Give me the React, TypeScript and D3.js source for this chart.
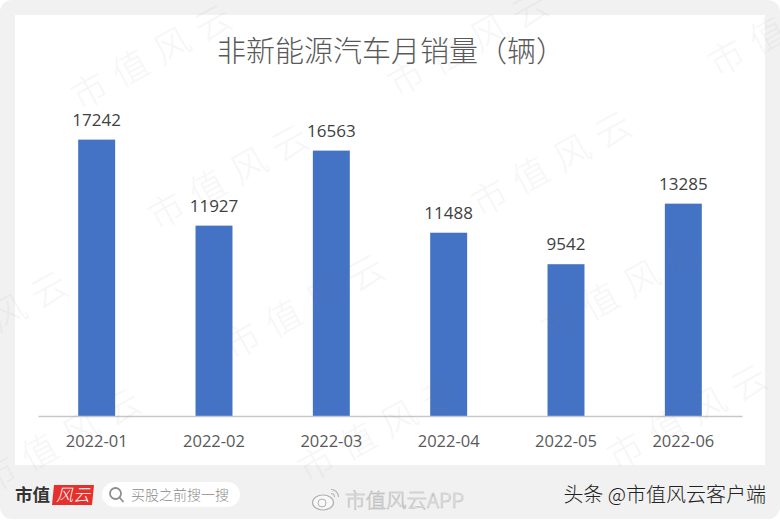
import { useEffect, useRef } from 'react';
import * as d3 from 'd3';

const months = ['2022-01', '2022-02', '2022-03', '2022-04', '2022-05', '2022-06'];
const sales = [17242, 11927, 16563, 11488, 9542, 13285];
const chartTitle = '非新能源汽车月销量（辆）';
const watermarkText = '市值风云';
// where each watermark stamp starts
const watermarkX = [80, 157, 233, 307, 397, 480, 550, 616, 717, -84, -11];
const watermarkY = [111, 231, 361, 484, 98, 218, 344, 471, 78, 378, 495];

const CJK = '"Noto Sans CJK SC", "Noto Sans", sans-serif';
const LATIN = '"Open Sans", "Noto Sans CJK SC", sans-serif';
const AXIS_Y = 416;

export default function App() {
  const svgRef = useRef<SVGSVGElement>(null);

  useEffect(() => {
    if (!svgRef.current) return;
    const svg = d3.select(svgRef.current);
    svg.selectAll('*').remove();

    const x = d3.scaleBand<string>().domain(months).range([38, 742]).paddingInner(0.685).paddingOuter(0.3425);
    const y = d3.scaleLinear().domain([0, 20000]).range([418.6, 95]);

    // background + card
    svg.append('rect').attr('width', 780).attr('height', 520).attr('fill', '#ffffff');
    svg.append('rect').attr('x', 0).attr('y', 0).attr('width', 780).attr('height', 519).attr('rx', 12).attr('fill', '#f1f1f1');
    svg.append('rect').attr('x', 15).attr('y', 15).attr('width', 750).attr('height', 450).attr('fill', '#ffffff');

    svg.append('text')
      .attr('x', 391)
      .attr('y', 61.5)
      .attr('text-anchor', 'middle')
      .attr('font-family', CJK)
      .attr('font-size', 29)
      .attr('font-weight', 300)
      .attr('fill', '#595959')
      .text(chartTitle);

    svg.selectAll('rect.bar')
      .data(months)
      .enter()
      .append('rect')
      .attr('class', 'bar')
      .attr('x', d => x(d)!)
      .attr('y', (d, i) => y(sales[i]))
      .attr('width', x.bandwidth())
      .attr('height', (d, i) => AXIS_Y - y(sales[i]))
      .attr('fill', '#4472c4');

    svg.selectAll('text.value')
      .data(months)
      .enter()
      .append('text')
      .attr('class', 'value')
      .attr('x', d => x(d)! + x.bandwidth() / 2)
      .attr('y', (d, i) => y(sales[i]) - 14)
      .attr('text-anchor', 'middle')
      .attr('font-family', LATIN)
      .attr('font-size', 17)
      .attr('fill', '#404040')
      .text((d, i) => sales[i]);

    const axis = svg.append('g')
      .attr('transform', `translate(0,${AXIS_Y})`)
      .call(d3.axisBottom(x).tickSize(0).tickPadding(19));
    axis.select('.domain').attr('stroke', '#c8c8c8').attr('stroke-width', 1.5);
    axis.selectAll('text')
      .attr('font-family', LATIN)
      .attr('font-size', 16.5)
      .attr('fill', '#595959');

    // diagonal watermark stamps over the chart
    const marks = svg.append('g').attr('pointer-events', 'none');
    watermarkX.forEach((wx, i) => {
      marks.append('text')
        .attr('transform', `translate(${wx},${watermarkY[i]}) rotate(-29)`)
        .attr('font-family', CJK)
        .attr('font-size', 36)
        .attr('font-weight', 300)
        .attr('letter-spacing', 11)
        .attr('fill', '#8c8c8c')
        .attr('opacity', 0.07)
        .text(watermarkText);
    });

    // footer: logo, search pill, weibo mark, source
    const footer = svg.append('g');
    footer.append('text')
      .attr('x', 15).attr('y', 501)
      .attr('font-family', '"Noto Sans CJK SC", serif')
      .attr('font-size', 17.5).attr('font-weight', 700)
      .attr('fill', '#333333')
      .text('市值');
    footer.append('path')
      .attr('d', d3.line()([[54, 485], [94, 485], [92, 505], [52, 505]])! + 'Z')
      .attr('fill', '#e5302c');
    footer.append('text')
      .attr('x', 73).attr('y', 501)
      .attr('text-anchor', 'middle')
      .attr('font-family', CJK)
      .attr('font-size', 17).attr('font-style', 'italic').attr('font-weight', 300)
      .attr('fill', '#ffffff')
      .text('风云');

    footer.append('rect').attr('x', 102).attr('y', 482).attr('width', 138).attr('height', 25).attr('rx', 12.5).attr('fill', '#ffffff');
    footer.append('circle').attr('cx', 115.5).attr('cy', 493.5).attr('r', 5.5).attr('fill', 'none').attr('stroke', '#8f8f8f').attr('stroke-width', 1.8);
    footer.append('line').attr('x1', 119.5).attr('y1', 497.5).attr('x2', 123.5).attr('y2', 502).attr('stroke', '#8f8f8f').attr('stroke-width', 1.8);
    footer.append('text')
      .attr('x', 131).attr('y', 500)
      .attr('font-family', CJK)
      .attr('font-size', 14)
      .attr('font-weight', 300)
      .attr('fill', '#8a8a8a')
      .text('买股之前搜一搜');

    footer.append('ellipse').attr('cx', 323).attr('cy', 502.5).attr('rx', 10.5).attr('ry', 7.5).attr('fill', '#f8f8f8').attr('stroke', '#b0b0b0').attr('stroke-width', 1.2);
    footer.append('circle').attr('cx', 322).attr('cy', 503).attr('r', 4).attr('fill', 'none').attr('stroke', '#b0b0b0');
    footer.append('path').attr('d', d3.arc()({ innerRadius: 7, outerRadius: 8, startAngle: 0, endAngle: Math.PI / 2 })!).attr('transform', 'translate(331,497)').attr('fill', '#b0b0b0');
    footer.append('path').attr('d', d3.arc()({ innerRadius: 3, outerRadius: 4, startAngle: 0, endAngle: Math.PI / 2 })!).attr('transform', 'translate(331,497)').attr('fill', '#b0b0b0');
    footer.append('text')
      .attr('x', 345).attr('y', 508)
      .attr('font-family', CJK)
      .attr('font-size', 20.5)
      .attr('font-weight', 300)
      .attr('fill', '#ffffff')
      .attr('stroke', '#b8b8b8')
      .attr('stroke-width', 0.6)
      .text('市值风云APP');

    footer.append('text')
      .attr('x', 766).attr('y', 502)
      .attr('text-anchor', 'end')
      .attr('font-family', CJK)
      .attr('font-size', 20)
      .attr('font-weight', 300)
      .attr('fill', '#222222')
      .text('头条 @市值风云客户端');
  }, []);

  return <svg ref={svgRef} width={780} height={520} style={{ position: 'absolute', left: 0, top: 0 }} />;
}
